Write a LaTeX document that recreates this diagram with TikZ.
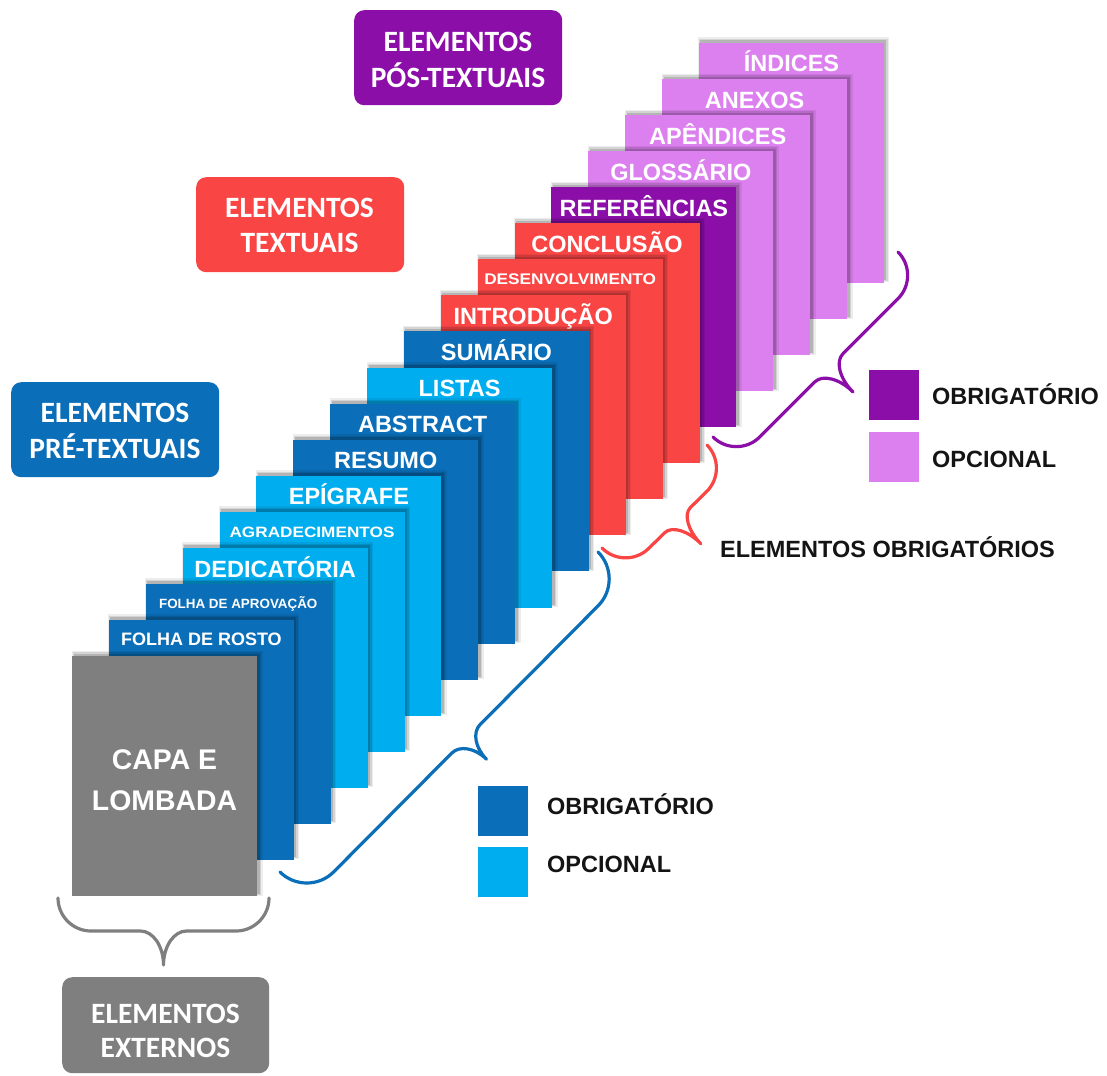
\documentclass[tikz,border=0pt]{standalone}
\usepackage{fontspec}
\setmainfont{Liberation Sans}
\newfontfamily\hdrfont{Carlito}
\usetikzlibrary{calc}
\definecolor{dblue}{HTML}{0B6EB9}
\definecolor{lblue}{HTML}{00AEEF}
\definecolor{pred}{HTML}{FA4545}
\definecolor{ppurple}{HTML}{8B0EA8}
\definecolor{lpurple}{HTML}{DC7FEF}
\definecolor{pgray}{HTML}{7F7F7F}
\tikzset{
 sheet/.style={draw=none, minimum width=185pt, minimum height=240pt, inner sep=0pt, outer sep=0pt, anchor=north west},
 sheetlbl/.style={text=white, anchor=base, inner sep=0pt},
 hbox/.style={rounded corners=10pt, minimum width=208pt, minimum height=95pt, inner sep=0pt, anchor=north west},
 htext/.style={text=white, anchor=base, inner sep=0pt, font=\hdrfont\bfseries\fontsize{29.5}{34}\selectfont},
 legsq/.style={minimum size=50pt, inner sep=0pt},
 legtxt/.style={anchor=base west, inner sep=0pt, font=\bfseries\fontsize{23.5}{28}\selectfont, text=black!92},
 bracestyle/.style={line width=3.2pt, line cap=round, line join=round},
}
% one sheet: #1 index, #2 name, #3 colour, #4 font size, #5 label, #6 baseline offset
\newcommand\sheet[6]{%
 \pgfmathsetmacro\shx{72+36.88*(#1+1)}%
 \pgfmathsetmacro\shy{656-36.06*(#1+1)}%
 \fill[black,opacity=.07] (\shx-0.5,\shy-5.5) rectangle (\shx+190.5,\shy+239.5);
 \fill[black,opacity=.10] (\shx+0.5,\shy-4) rectangle (\shx+189,\shy+238.5);
 \fill[black,opacity=.15] (\shx+1.5,\shy-2.5) rectangle (\shx+187.5,\shy+237.5);
 \node[sheet, fill=#3] (#2) at (\shx,\shy) {};
 \node[sheetlbl, font=\bfseries\fontsize{#4}{#4}\selectfont] (#2-t) at (\shx+92.5,\shy+#6) {#5};
}
\newcommand\bpc[3]{\coordinate (#1) at ({\bAx+(#2)*(\bux)-(#3)*(\buy)},{\bAy+(#2)*(\buy)+(#3)*(\bux)});}
% brace coordinates: #1 prefix, #2 Ax, #3 Ay, #4 Bx, #5 By, #6 h, #7 depth, #8 tip curl
\newcommand\bracepts[8]{%
 \pgfmathsetmacro\bL{veclen(#4-#2,#5-#3)}%
 \pgfmathsetmacro\bux{(#4-#2)/\bL}%
 \pgfmathsetmacro\buy{(#5-#3)/\bL}%
 \pgfmathsetmacro\bm{\bL/2}%
 \def\bAx{#2}\def\bAy{#3}%
 \bpc{#1-0}{0}{0}
 \bpc{#1-1}{0}{0.55*#6}
 \bpc{#1-2}{0.45*#6}{#6}
 \bpc{#1-3}{#6}{#6}
 \bpc{#1-4}{\bm-#8}{#6}
 \bpc{#1-5}{\bm-0.45*#8}{#6}
 \bpc{#1-6}{\bm}{#6+0.45*(#7-#6)}
 \bpc{#1-7}{\bm}{#7}
 \bpc{#1-8}{\bm+0.45*#8}{#6}
 \bpc{#1-9}{\bm+#8}{#6}
 \bpc{#1-10}{\bL-#6}{#6}
 \bpc{#1-11}{\bL-0.45*#6}{#6}
 \bpc{#1-12}{\bL}{0.55*#6}
 \bpc{#1-13}{\bL}{0}
}
\newcommand\bracedraw[2]{%
 \draw[bracestyle, draw=#2] (#1-0) .. controls (#1-1) and (#1-2) .. (#1-3) -- (#1-4)
   .. controls (#1-5) and (#1-6) .. (#1-7) .. controls (#1-6) and (#1-8) .. (#1-9)
   -- (#1-10) .. controls (#1-11) and (#1-12) .. (#1-13);
}
\begin{document}
\begin{tikzpicture}[x=1pt,y=-1pt]
\fill[white] (0,0) rectangle (1107,1075);
\useasboundingbox (0,0) rectangle (1107,1075);

% header boxes
\node[hbox, fill=ppurple] (hpos) at (354,10) {};
\node[htext] (hpos1) at (458,51.7) {ELEMENTOS};
\node[htext] (hpos2) at (458,87.3) {PÓS-TEXTUAIS};
\node[hbox, fill=pred] (htex) at (196,177) {};
\node[htext] (htex1) at (299.5,217.3) {ELEMENTOS};
\node[htext] (htex2) at (299.5,252.3) {TEXTUAIS};
\node[hbox, fill=dblue] (hpre) at (11,382) {};
\node[htext] (hpre1) at (115,422) {ELEMENTOS};
\node[htext] (hpre2) at (115,458) {PRÉ-TEXTUAIS};
\node[hbox, fill=pgray, minimum width=207pt, minimum height=96pt] (hext) at (62,977) {};
\node[htext] (hext1) at (165.5,1023) {ELEMENTOS};
\node[htext] (hext2) at (165.5,1057) {EXTERNOS};

% sheets, back to front
\sheet{16}{indices}{lpurple}{23.5}{ÍNDICES}{29}
\sheet{15}{anexos}{lpurple}{23.5}{ANEXOS}{29}
\sheet{14}{apend}{lpurple}{23.5}{APÊNDICES}{29}
\sheet{13}{gloss}{lpurple}{23.5}{GLOSSÁRIO}{29}
\sheet{12}{refer}{ppurple}{23.5}{REFERÊNCIAS}{29}
\sheet{11}{concl}{pred}{23.5}{CONCLUSÃO}{29}
\sheet{10}{desenv}{pred}{15.4}{\scalebox{1.12}[1]{DESENVOLVIMENTO}}{24.8}
\sheet{9}{intro}{pred}{23.5}{INTRODUÇÃO}{29}
\sheet{8}{sumario}{dblue}{23.5}{SUMÁRIO}{29}
\sheet{7}{listas}{lblue}{23.5}{LISTAS}{29}
\sheet{6}{abstract}{dblue}{23.5}{ABSTRACT}{29}
\sheet{5}{resumo}{dblue}{23.5}{RESUMO}{29}
\sheet{4}{epig}{lblue}{23.5}{EPÍGRAFE}{29}
\sheet{3}{agrad}{lblue}{15}{\scalebox{1.146}[1]{AGRADECIMENTOS}}{25.5}
\sheet{2}{dedic}{lblue}{23.5}{DEDICATÓRIA}{29.5}
\sheet{1}{aprov}{dblue}{13.4}{FOLHA DE APROVAÇÃO}{24.5}
\sheet{0}{rosto}{dblue}{18}{FOLHA DE ROSTO}{26}
\sheet{-1}{capa}{pgray}{10}{}{0}
\node[sheetlbl, font=\bfseries\fontsize{28.4}{34}\selectfont] (capa-t1) at (164.5,769) {CAPA E};
\node[sheetlbl, font=\bfseries\fontsize{28.4}{34}\selectfont] (capa-t2) at (164.5,810) {LOMBADA};

% braces
\bracepts{bg}{58}{898}{269}{898}{33}{67}{23}
\bracedraw{bg}{pgray}
\bracepts{bb}{280}{872}{598}{552}{38}{67}{20}
\bracedraw{bb}{dblue}
\bracepts{br}{602}{548}{707}{445}{33}{66}{18}
\bracedraw{br}{pred}
\bracepts{bp}{713}{437}{898}{252}{33}{67}{20}
\bracedraw{bp}{ppurple}

% legends
\node[legsq, fill=dblue] (lgb1) at (503,811) {};
\node[legsq, fill=lblue] (lgb2) at (503,872) {};
\node[legtxt] (lgb1t) at (547,814) {OBRIGATÓRIO};
\node[legtxt] (lgb2t) at (547,872) {OPCIONAL};
\node[legsq, fill=ppurple] (lgp1) at (894,395) {};
\node[legsq, fill=lpurple] (lgp2) at (894,457) {};
\node[legtxt] (lgp1t) at (932,404) {OBRIGATÓRIO};
\node[legtxt] (lgp2t) at (932,467) {OPCIONAL};
\node[legtxt] (oblig) at (720,557) {ELEMENTOS OBRIGATÓRIOS};
\end{tikzpicture}
\end{document}
